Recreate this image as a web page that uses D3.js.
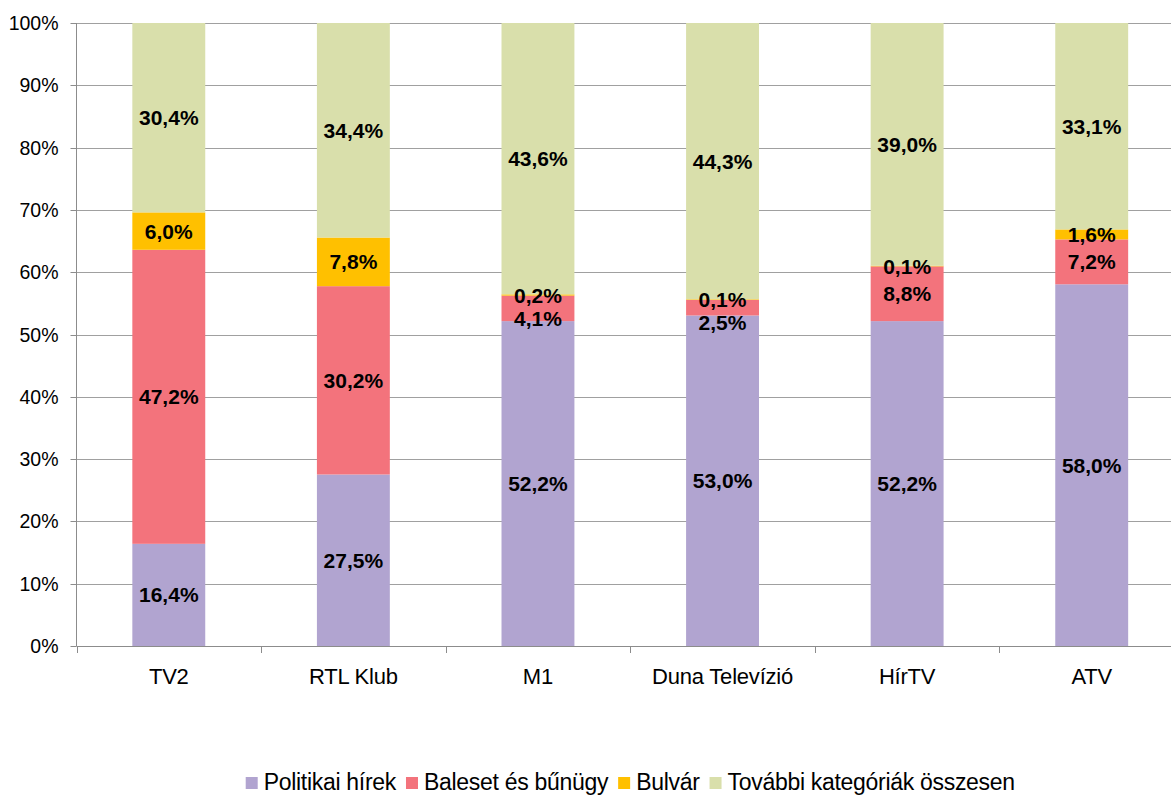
<!DOCTYPE html>
<html>
<head>
<meta charset="utf-8">
<script src="https://cdn.jsdelivr.net/npm/d3@7"></script>
<style>
  body { margin: 0; background: #fff; }
  svg { display: block; font-family: "Liberation Sans", Arial, sans-serif; }
</style>
</head>
<body>
<svg id="chart" width="1171" height="796"></svg>
<script>
// data
const channels = ['TV2', 'RTL Klub', 'M1', 'Duna Televízió', 'HírTV', 'ATV'];
const seriesNames = ['Politikai hírek', 'Baleset és bűnügy', 'Bulvár', 'További kategóriák összesen'];
const politikai = [16.4, 27.5, 52.2, 53.0, 52.2, 58.0];
const baleset = [47.2, 30.2, 4.1, 2.5, 8.8, 7.2];
const bulvar = [6.0, 7.8, 0.2, 0.1, 0.1, 1.6];
const tovabbi = [30.4, 34.4, 43.6, 44.3, 39.0, 33.1];
const yTicks = [0, 0.1, 0.2, 0.3, 0.4, 0.5, 0.6, 0.7, 0.8, 0.9, 1];

const colors = ['#b1a4d0', '#f3737c', '#ffc000', '#d9dfab'];
const seriesValues = [politikai, baleset, bulvar, tovabbi];

let rows = channels.map((c, i) => {
    let row = { channel: c };
    seriesNames.forEach((s, j) => { row[s] = seriesValues[j][i]; });
    return row;
});

let stacked = d3.stack()
    .keys(seriesNames)
    .offset(d3.stackOffsetExpand)(rows);

let svg = d3.select('#chart');
let plotLeft = 76.5, plotRight = 1184, plotTop = 23, plotBottom = 646;

let x = d3.scaleBand()
    .domain(channels)
    .range([plotLeft, plotRight])
    .paddingInner(0.605)
    .paddingOuter(0.3025);

let y = d3.scaleLinear().domain([0, 1]).range([plotBottom, plotTop]);

// gridlines
svg.append('g')
    .selectAll('line')
    .data(yTicks.slice(1))
    .join('line')
    .attr('x1', plotLeft)
    .attr('x2', 1171)
    .attr('y1', d => Math.round(y(d)) + 0.5)
    .attr('y2', d => Math.round(y(d)) + 0.5)
    .attr('stroke', '#a0a0a0')
    .attr('stroke-width', 1);

// bars
stacked.forEach((layer, j) => {
    svg.append('g')
        .attr('fill', colors[j])
        .selectAll('rect')
        .data(layer)
        .join('rect')
        .attr('x', d => x(d.data.channel))
        .attr('width', x.bandwidth())
        .attr('y', d => y(d[1]))
        .attr('height', d => y(d[0]) - y(d[1]));
});

// y axis
let yAxis = svg.append('g').attr('transform', `translate(${plotLeft},0)`);
yAxis.append('line')
    .attr('x1', 0).attr('x2', 0)
    .attr('y1', plotTop).attr('y2', plotBottom)
    .attr('stroke', '#8c8c8c');
yAxis.selectAll('line.tick')
    .data(yTicks)
    .join('line')
    .attr('class', 'tick')
    .attr('x1', -6).attr('x2', 0)
    .attr('y1', d => Math.round(y(d)) + 0.5)
    .attr('y2', d => Math.round(y(d)) + 0.5)
    .attr('stroke', '#8c8c8c');
yAxis.selectAll('text')
    .data(yTicks)
    .join('text')
    .attr('x', -18)
    .attr('y', d => y(d))
    .attr('dy', '0.36em')
    .attr('text-anchor', 'end')
    .attr('font-size', 19.5)
    .attr('fill', '#000')
    .text(d => d3.format('.0%')(d));

// x axis
let xAxis = svg.append('g');
xAxis.append('line')
    .attr('x1', plotLeft).attr('x2', 1171)
    .attr('y1', plotBottom + 0.5).attr('y2', plotBottom + 0.5)
    .attr('stroke', '#8c8c8c');
let step = x.step();
xAxis.selectAll('line.tick')
    .data(d3.range(channels.length + 1))
    .join('line')
    .attr('class', 'tick')
    .attr('x1', i => Math.round(plotLeft + i * step) + 0.5)
    .attr('x2', i => Math.round(plotLeft + i * step) + 0.5)
    .attr('y1', plotBottom)
    .attr('y2', plotBottom + 7)
    .attr('stroke', '#8c8c8c');
xAxis.selectAll('text')
    .data(channels)
    .join('text')
    .attr('x', d => x(d) + x.bandwidth() / 2)
    .attr('y', 684)
    .attr('text-anchor', 'middle')
    .attr('font-size', 22)
    .attr('letter-spacing', -0.2)
    .attr('fill', '#000')
    .text(d => d);

// data labels, pushed down when they collide (top segment first)
let fmt = v => d3.format('.1f')(v).replace('.', ',') + '%';
let labels = [];
channels.forEach((c, i) => {
    let prev = -Infinity;
    for (let j = stacked.length - 1; j >= 0; j--) {
        let d = stacked[j][i];
        let cy = y((d[0] + d[1]) / 2);
        if (cy < prev + 23) cy = prev + 23;
        prev = cy;
        labels.push({ x: x(c) + x.bandwidth() / 2, y: cy, text: fmt(seriesValues[j][i]) });
    }
});
svg.append('g')
    .selectAll('text')
    .data(labels)
    .join('text')
    .attr('x', d => d.x)
    .attr('y', d => d.y)
    .attr('dy', '0.36em')
    .attr('text-anchor', 'middle')
    .attr('font-size', 21)
    .attr('font-weight', 'bold')
    .attr('fill', '#000')
    .text(d => d.text);

// legend
let legend = svg.append('g');
let items = legend.selectAll('g')
    .data(seriesNames)
    .join('g');
items.append('rect')
    .attr('width', 12)
    .attr('height', 12)
    .attr('y', 777)
    .attr('fill', (d, i) => colors[i]);
items.append('text')
    .attr('x', 18)
    .attr('y', 790)
    .attr('font-size', 23)
    .attr('letter-spacing', -0.3)
    .attr('fill', '#000')
    .text(d => d);
let offsets = [];
let cur = 0;
items.each(function () {
    offsets.push(cur);
    let w = d3.select(this).select('text').node().getComputedTextLength();
    cur += 18 + w + 10;
});
let total = cur - 10;
let startX = (plotLeft + plotRight) / 2 - total / 2;
items.attr('transform', (d, i) => `translate(${startX + offsets[i]},0)`);
</script>
</body>
</html>
